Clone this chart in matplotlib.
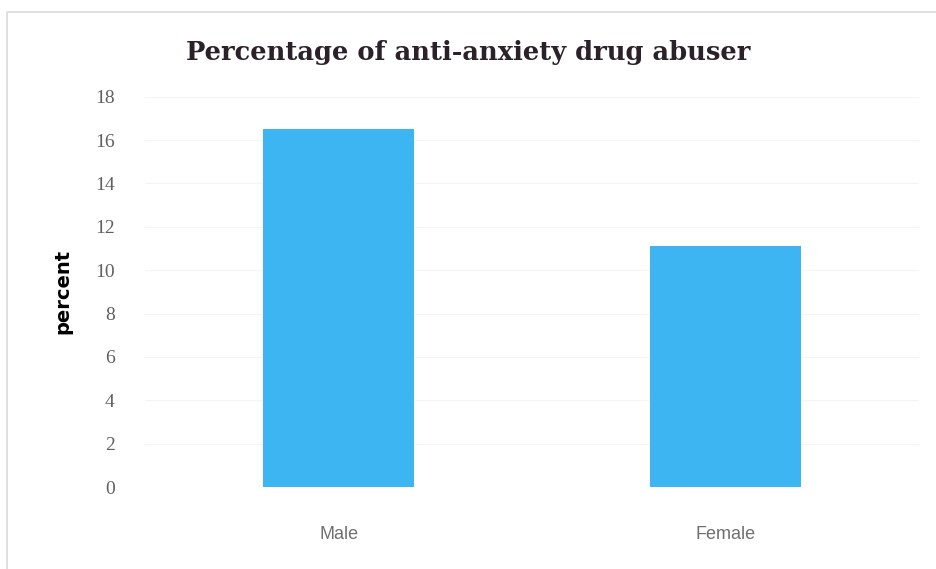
import matplotlib.pyplot as plt
from matplotlib.patches import Rectangle

# data
groups = ['Male', 'Female']
percent = [16.5, 11.1]
yticks = [0, 2, 4, 6, 8, 10, 12, 14, 16, 18]

fig = plt.figure(figsize=(9.36, 5.69), dpi=100)
ax = fig.add_axes([0.155, 0.144, 0.827, 0.686])

ax.bar(range(len(groups)), percent, width=0.39, color='#3db5f2', zorder=2)
ax.set_xlim(-0.5, 1.5)
ax.set_ylim(0, 18)
ax.set_yticks(yticks)
ax.set_yticklabels([str(t) for t in yticks], family='Liberation Serif',
                   fontsize=14, color='#606060')
ax.set_xticks(range(len(groups)))
ax.set_xticklabels(groups, family='Liberation Sans', fontsize=13, color='#707070')
ax.tick_params(axis='both', length=0)
ax.tick_params(axis='y', pad=22)
ax.tick_params(axis='x', pad=28)
ax.grid(axis='y', color='#f4f4f4', linewidth=0.8, zorder=0)
for s in ax.spines.values():
    s.set_visible(False)

ax.set_ylabel('percent', fontsize=14, fontweight='bold', family='DejaVu Sans',
              labelpad=16)
fig.text(0.5, 0.907, 'Percentage of anti-anxiety drug abuser',
         ha='center', va='center', fontsize=18.5, fontweight='bold',
         family='DejaVu Serif', color='#2b2229')

# light frame round the chart
fig.patches.append(Rectangle((0.008, -0.01), 0.995, 0.989, transform=fig.transFigure,
                             fill=False, edgecolor='#dcdcdc', linewidth=1.2))

fig.savefig('out.png', dpi=100)
